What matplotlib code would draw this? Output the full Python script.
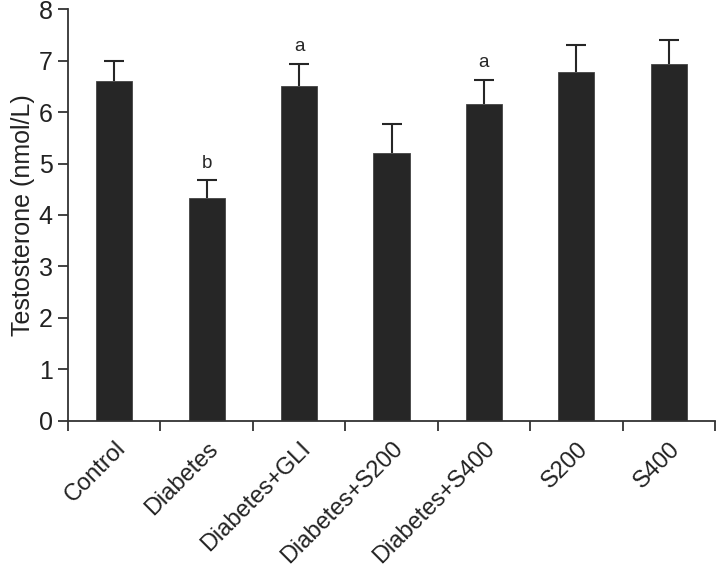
import matplotlib.pyplot as plt
from matplotlib.ticker import FixedLocator

plt.rcParams['font.family'] = ['Liberation Sans', 'DejaVu Sans']

groups = ['Control', 'Diabetes', 'Diabetes+GLI', 'Diabetes+S200', 'Diabetes+S400', 'S200', 'S400']
means = [6.60, 4.33, 6.50, 5.20, 6.15, 6.77, 6.93]
errs = [0.40, 0.34, 0.44, 0.56, 0.47, 0.53, 0.46]
marks = ['', 'b', 'a', '', 'a', '', '']

fig = plt.figure(figsize=(7.16, 5.68), dpi=100)
ax = fig.add_axes([0.095, 0.259, 0.9036, 0.725])

x = list(range(len(groups)))
ax.bar(x, means, width=0.39, color='#262626', edgecolor='#444444', linewidth=0.6, zorder=2)
eb = ax.errorbar(x, means, yerr=[[0] * len(errs), errs], fmt='none', ecolor='#262626',
                 elinewidth=1.5, capsize=7, capthick=1.5, zorder=1)
# only the upper cap is wanted
eb[1][0].set_visible(False)

for xi, m, e, t in zip(x, means, errs, marks):
    if t:
        ax.text(xi, m + e + 0.17, t, ha='center', va='bottom', fontsize=13.5, color='#262626')

ax.set_xlim(-0.5, 6.5)
ax.set_ylim(0, 8)
ax.set_yticks(range(0, 9))
ax.set_xticks(x)
ax.set_xticklabels(groups, rotation=45, ha='right', rotation_mode='anchor', fontsize=17, color='#222222')
ax.xaxis.set_minor_locator(FixedLocator([i - 0.5 for i in range(len(groups) + 1)]))
ax.tick_params(axis='x', which='major', length=0, pad=12)
ax.tick_params(axis='x', which='minor', length=7, width=1.3, color='#333333', direction='out')
ax.tick_params(axis='y', length=7, width=1.3, color='#333333', labelsize=18, labelcolor='#222222', pad=4)
ax.set_ylabel('Testosterone (nmol/L)', fontsize=18, color='#222222', labelpad=3)

for s in ['top', 'right']:
    ax.spines[s].set_visible(False)
for s in ['left', 'bottom']:
    ax.spines[s].set_linewidth(1.3)
    ax.spines[s].set_color('#333333')

fig.savefig('out.png', dpi=100)
